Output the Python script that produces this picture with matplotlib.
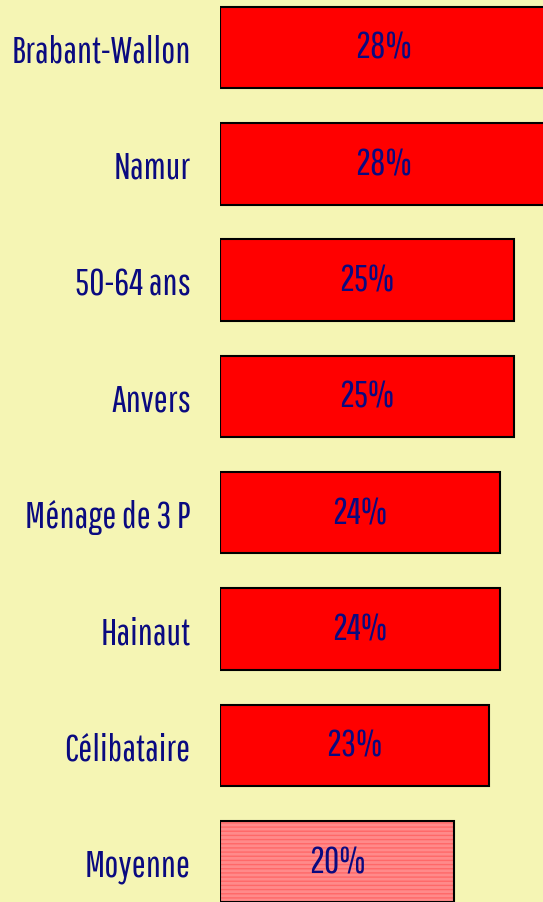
import matplotlib
matplotlib.use("Agg")
import matplotlib.pyplot as plt

categories = ["Brabant-Wallon", "Namur", "50-64 ans", "Anvers",
              "Ménage de 3 P", "Hainaut", "Célibataire", "Moyenne"]
values = [28.0, 28.0, 25.1, 25.1, 23.9, 23.9, 23.0, 20.0]
labels = ["28%", "28%", "25%", "25%", "24%", "24%", "23%", "20%"]

FAMILY = ["Pathway Gothic One", "DejaVu Sans"]
FS = 27
BG = "#f5f5b4"
NAVY = "#0a0a80"

W, H, DPI = 543, 903, 100
fig = plt.figure(figsize=(W / DPI, H / DPI), dpi=DPI, facecolor=BG)
ax = fig.add_axes([220 / W, 0, 323 / W, 1])
ax.set_facecolor(BG)

y = list(range(len(categories)))
normal_idx = list(range(len(categories) - 1))
ax.barh([y[i] for i in normal_idx], [values[i] for i in normal_idx],
        height=0.70, left=0, color="#ff0000", edgecolor="black", linewidth=1.5)
# average bar: hatched pink
ax.barh(y[-1], values[-1], height=0.70, left=0, color="#ff8a8a",
        edgecolor="#ff6868", linewidth=0, hatch="----")
ax.barh(y[-1], values[-1], height=0.70, left=0, fill=False,
        edgecolor="black", linewidth=1.5)

for yi, v, lab in zip(y, values, labels):
    ax.text(v / 2, yi, lab, ha="center", va="center", color=NAVY,
            fontsize=FS, family=FAMILY)

ax.set_xlim(0, 323 / 11.7)
ax.set_ylim(7.347, -0.417)
ax.set_yticks(y)
ax.set_yticklabels(categories, color=NAVY, fontsize=FS, family=FAMILY)
ax.tick_params(axis="y", length=0, pad=21)
ax.set_xticks([])
for s in ax.spines.values():
    s.set_visible(False)

fig.savefig("out.png", dpi=DPI, facecolor=BG)
